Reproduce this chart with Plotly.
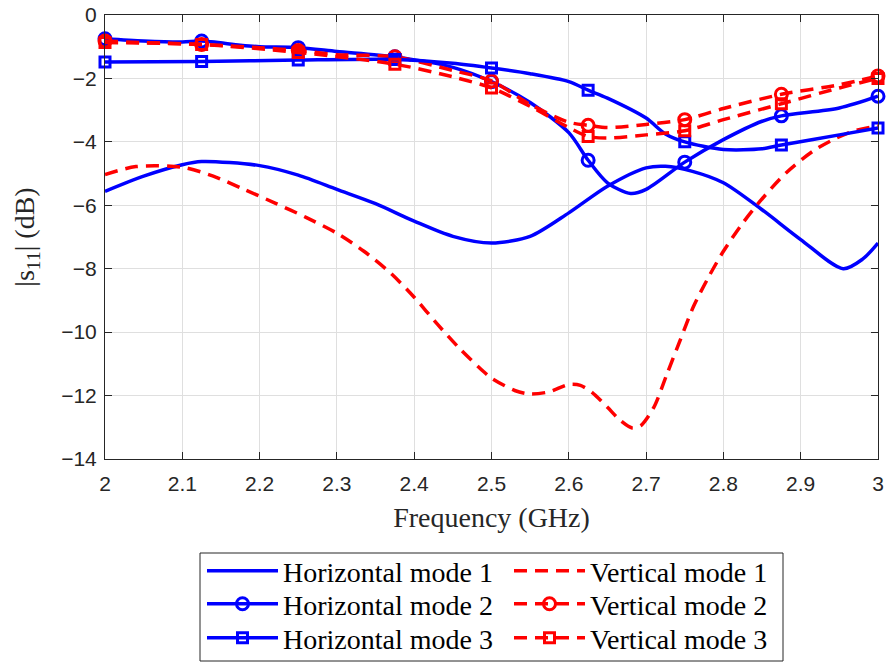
import plotly.graph_objects as go

# ---------------- data ----------------
h1_x = [2.0, 2.05, 2.1, 2.125, 2.2, 2.25, 2.3, 2.35, 2.4, 2.45, 2.5, 2.55, 2.6, 2.65,
        2.7, 2.725, 2.76, 2.8, 2.85, 2.9, 2.955, 2.98, 3.0]
h1_y = [-5.56, -5.08, -4.72, -4.62, -4.75, -5.05, -5.5, -5.95, -6.5, -6.98, -7.19, -6.98,
        -6.24, -5.4, -4.82, -4.77, -4.93, -5.29, -6.14, -7.08, -8.0, -7.7, -7.19]

h2_x = [2.0, 2.05, 2.1, 2.125, 2.175, 2.2, 2.25, 2.3, 2.375, 2.45, 2.5, 2.55, 2.6, 2.625,
        2.65, 2.68, 2.7, 2.75, 2.8, 2.85, 2.875, 2.95, 3.0]
h2_y = [-0.75, -0.82, -0.85, -0.82, -0.95, -1.0, -1.03, -1.15, -1.32, -1.65, -2.1, -2.76,
        -3.71, -4.58, -5.29, -5.63, -5.5, -4.64, -3.93, -3.35, -3.18, -2.93, -2.56]

h3_x = [2.0, 2.125, 2.25, 2.375, 2.45, 2.5, 2.55, 2.6, 2.625, 2.65, 2.7, 2.725, 2.75, 2.8,
        2.85, 2.875, 2.95, 3.0]
h3_y = [-1.48, -1.47, -1.42, -1.4, -1.52, -1.67, -1.85, -2.1, -2.37, -2.62, -3.25, -3.75,
        -4.0, -4.24, -4.22, -4.1, -3.78, -3.56]

v1_x = [2.0, 2.04, 2.1, 2.14, 2.18, 2.22, 2.26, 2.3, 2.335, 2.37, 2.4, 2.43, 2.46, 2.49,
        2.5, 2.53, 2.55, 2.575, 2.6, 2.615, 2.63, 2.65, 2.667, 2.682, 2.693, 2.71, 2.727,
        2.744, 2.761, 2.78, 2.8, 2.825, 2.851, 2.881, 2.916, 2.942, 2.968, 3.0]
v1_y = [-5.03, -4.78, -4.8, -5.08, -5.5, -5.93, -6.38, -6.88, -7.45, -8.15, -8.9, -9.75,
        -10.55, -11.25, -11.45, -11.84, -11.95, -11.88, -11.65, -11.68, -11.9, -12.37,
        -12.79, -13.02, -12.95, -12.37, -11.32, -10.26, -9.21, -8.3, -7.45, -6.56, -5.77,
        -4.98, -4.29, -3.93, -3.66, -3.5]

v2_x = [2.0, 2.05, 2.125, 2.2, 2.25, 2.3, 2.375, 2.45, 2.5, 2.55, 2.6, 2.625, 2.65, 2.7,
        2.75, 2.8, 2.875, 2.95, 3.0]
v2_y = [-0.82, -0.87, -0.93, -1.03, -1.12, -1.25, -1.32, -1.75, -2.08, -2.82, -3.38,
        -3.48, -3.55, -3.45, -3.3, -2.95, -2.5, -2.2, -1.92]

v3_x = [2.0, 2.125, 2.25, 2.375, 2.45, 2.5, 2.55, 2.6, 2.625, 2.65, 2.7, 2.75, 2.8,
        2.875, 2.95, 3.0]
v3_y = [-0.87, -0.93, -1.18, -1.55, -1.95, -2.3, -2.88, -3.55, -3.83, -3.88, -3.78,
        -3.65, -3.3, -2.8, -2.3, -2.0]

marker_x = [2.0, 2.125, 2.25, 2.375, 2.5, 2.625, 2.75, 2.875, 3.0]

x_ticks = [2.0, 2.1, 2.2, 2.3, 2.4, 2.5, 2.6, 2.7, 2.8, 2.9, 3.0]
x_labels = ["2", "2.1", "2.2", "2.3", "2.4", "2.5", "2.6", "2.7", "2.8", "2.9", "3"]
y_ticks = [0, -2, -4, -6, -8, -10, -12, -14]

BLUE = "#0000FF"
RED = "#FF0000"
DASH = "13px,8px"

# layout geometry (pixels)
W, H = 887, 662
ML, MR, MT, MB = 105, 9, 15, 203
PW, PH = W - ML - MR, H - MT - MB


def px_to_paper_x(px):
    return (px - ML) / PW


def px_to_paper_y(py):
    return (H - MB - py) / PH


def marker_idx(xs):
    return [i for i, x in enumerate(xs) if any(abs(x - m) < 1e-9 for m in marker_x)]


series = [
    ("Horizontal mode 1", h1_x, h1_y, BLUE, "solid", None, "legend"),
    ("Vertical mode 1", v1_x, v1_y, RED, DASH, None, "legend"),
    ("Horizontal mode 2", h2_x, h2_y, BLUE, "solid", "circle", "legend2"),
    ("Vertical mode 2", v2_x, v2_y, RED, DASH, "circle", "legend2"),
    ("Horizontal mode 3", h3_x, h3_y, BLUE, "solid", "square", "legend3"),
    ("Vertical mode 3", v3_x, v3_y, RED, DASH, "square", "legend3"),
]

fig = go.Figure()
for name, xs, ys, col, dash, sym, leg in series:
    line = dict(color=col, width=3.5, dash=dash, shape="spline", smoothing=0.8)
    if sym is None:
        fig.add_trace(go.Scatter(x=xs, y=ys, name=name, mode="lines", line=line,
                                 legend=leg))
    else:
        fig.add_trace(go.Scatter(
            x=xs, y=ys, name=name, mode="lines+markers", line=line, legend=leg,
            cliponaxis=False,
            marker=dict(symbol=sym, size=12 if sym == "circle" else 10,
                        color="rgba(0,0,0,0)", line=dict(color=col, width=3)),
            selectedpoints=marker_idx(xs),
            selected=dict(marker=dict(opacity=1)),
            unselected=dict(marker=dict(opacity=0))))

axis_common = dict(
    showline=True, linecolor="#262626", linewidth=1, mirror="ticks",
    ticks="inside", ticklen=7, tickcolor="#262626",
    showgrid=True, gridcolor="#dfdfdf", gridwidth=1, zeroline=False,
    tickfont=dict(family="Liberation Sans, Arial", size=21, color="#262626"),
)

fig.update_xaxes(
    range=[2, 3], tickvals=x_ticks, ticktext=x_labels, ticklabelstandoff=6,
    title=dict(text="Frequency (GHz)", standoff=13,
               font=dict(family="Liberation Serif, Times New Roman", size=28, color="#262626")),
    **axis_common)
fig.update_yaxes(
    range=[-14, 0], tickvals=y_ticks, ticklabelstandoff=3,
    title=dict(text="|s<sub>11</sub>| (dB)", standoff=18,
               font=dict(family="Liberation Serif, Times New Roman", size=28, color="#262626")),
    **axis_common)

LEG_FONT = dict(family="Liberation Serif, Times New Roman", size=28, color="black")
row_centers = [571, 604, 638]
legend_common = dict(
    orientation="h", x=px_to_paper_x(202), xanchor="left", yanchor="middle",
    entrywidth=221, entrywidthmode="pixels", itemwidth=71,
    font=LEG_FONT, bgcolor="rgba(0,0,0,0)", borderwidth=0,
)

fig.update_layout(
    width=W, height=H,
    margin=dict(l=ML, r=MR, t=MT, b=MB, autoexpand=False),
    plot_bgcolor="white", paper_bgcolor="white",
    showlegend=True,
    legend=dict(y=px_to_paper_y(row_centers[0]), **legend_common),
    legend2=dict(y=px_to_paper_y(row_centers[1]), **legend_common),
    legend3=dict(y=px_to_paper_y(row_centers[2]), **legend_common),
    shapes=[dict(type="rect", xref="paper", yref="paper", layer="below",
                 x0=px_to_paper_x(200), x1=px_to_paper_x(783),
                 y0=px_to_paper_y(661), y1=px_to_paper_y(553),
                 line=dict(color="#262626", width=1), fillcolor="white")],
)

fig.write_html("out.html")
